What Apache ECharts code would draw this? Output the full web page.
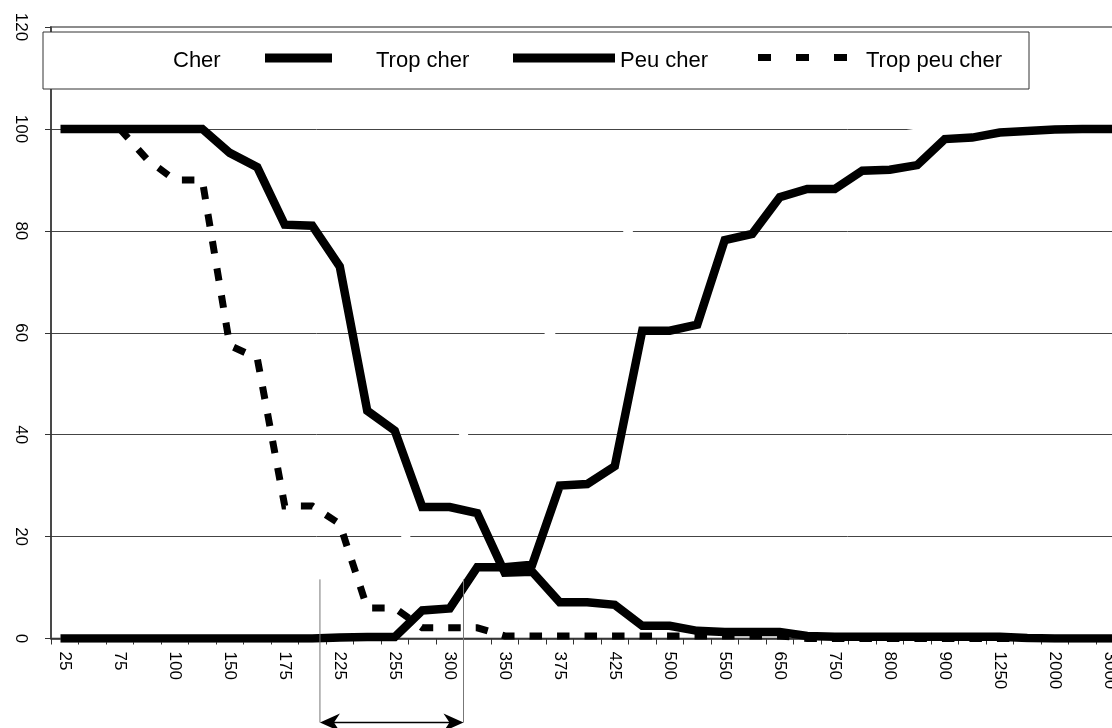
<!DOCTYPE html>
<html>
<head>
<meta charset="utf-8">
<script src="https://cdn.jsdelivr.net/npm/echarts/dist/echarts.min.js"></script>
<style>
html,body{margin:0;padding:0;background:#fff;}
#chart{width:1112px;height:728px;}
</style>
</head>
<body>
<div id="chart"></div>
<script>
// Price points (every other one is labelled on the axis)
const categories = ['25','50','75','90','100','125','150','160','175','200','225','250','255','275','300','325','350','360','375','400','425','450','500','525','550','600','650','700','750','775','800','850','900','1000','1250','1500','2000','2500','3000'];

// Cumulative percentages
const cher        = [0,0,0,0,0,0,0,0,0,1,4,10,16,26,35,45,50,56,62,70,76,84,88,90,93,95,96,97,97.5,98,98.5,99.3,100,100,100,100,100,100,100];
const tropCher    = [0,0,0,0,0,0,0,0,0,0,0.2,0.3,0.3,5.5,5.9,14,14,14.5,30,30.3,33.8,60.4,60.4,61.6,78.2,79.4,86.6,88.2,88.2,91.8,92,92.9,98,98.3,99.3,99.6,99.9,100,100];
const peuCher     = [100,100,100,100,100,100,95.3,92.5,81.2,81,73,44.7,40.8,25.8,25.8,24.6,12.9,13.1,7.1,7.1,6.6,2.5,2.5,1.5,1.3,1.3,1.3,0.5,0.35,0.35,0.35,0.35,0.35,0.35,0.35,0.1,0,0,0];
const tropPeuCher = [100,100,100,94,90,90,57.5,55,26,26,22.5,6,6,2.1,2.1,2.1,0.5,0.5,0.5,0.5,0.5,0.5,0.5,0.5,0.5,0.5,0.5,0,0,0,0,0,0,0,0,0,0,0,0];

const seriesNames = ['Cher','Trop cher','Peu cher','Trop peu cher'];
const yTicks = [0, 120, 20];          // min, max, interval
const rangeMarks = [9.28, 14.5];      // acceptable range bounds, in category positions
const rangeTopValue = 11.6;

const FONT = 'Liberation Sans, Arial, sans-serif';
const chart = echarts.init(document.getElementById('chart'), null, {renderer:'canvas'});

// legend icons: bar in the upper part of a 15px-high box (text sits slightly lower, as in the original)
const barIcon67  = 'path://M0,0H67V9H0Z M0,15H1V15Z';
const barIcon102 = 'path://M0,0H102V9H0Z M0,15H1V15Z';
const dashIcon   = 'path://M0,1H13V8H0Z M38,1H51V8H38Z M76,1H89V8H76Z M0,15H1V15Z';

function legendItem(name, left, icon, w, padLeft){
  return {
    data:[{name:name, icon:icon}],
    left:left, top:50, padding:0,
    itemWidth:w, itemHeight:15,
    selectedMode:false, z:20,
    itemStyle:{borderWidth:0},
    textStyle:{fontFamily:FONT, fontSize:22, color:'#000', padding:[0,0,0,padLeft]}
  };
}

const option = {
  animation:false,
  backgroundColor:'#fff',
  grid:{left:51, right:-11.5, top:27, bottom:89.5, show:true, borderColor:'#8c8c8c', borderWidth:2, backgroundColor:'transparent', outerBoundsMode:'none'},
  legend:[
    legendItem(seriesNames[0], 101, barIcon67, 67, 0),
    legendItem(seriesNames[1], 265, barIcon67, 67, 39),
    legendItem(seriesNames[2], 513, barIcon102, 102, 0),
    legendItem(seriesNames[3], 758, dashIcon, 89, 14)
  ],
  xAxis:{
    type:'category', data:categories, boundaryGap:true,
    axisLine:{lineStyle:{color:'#333', width:1.5}},
    axisTick:{show:true, interval:0, length:6, lineStyle:{color:'#333', width:1}},
    axisLabel:{interval:1, rotate:-90, margin:13, fontFamily:FONT, fontSize:17, color:'#000'},
    splitLine:{show:false}
  },
  yAxis:{
    type:'value', min:yTicks[0], max:yTicks[1], interval:yTicks[2],
    axisLine:{show:true, lineStyle:{color:'#333', width:1.5}},
    axisTick:{show:true, length:6, lineStyle:{color:'#333', width:1}},
    axisLabel:{rotate:-90, margin:22, fontFamily:FONT, fontSize:17, color:'#000'},
    splitLine:{show:true, lineStyle:{color:['#444','#444','#444','#444','#444','#444','#8c8c8c'], width:1}}
  },
  series:[
    {name:seriesNames[0], type:'line', data:cher, symbol:'none', showSymbol:false, z:2,
     itemStyle:{color:'#fff'}, lineStyle:{color:'#fff', width:8, cap:'square'}},
    {name:seriesNames[1], type:'line', data:tropCher, symbol:'none', showSymbol:false, z:3,
     itemStyle:{color:'#000'}, lineStyle:{color:'#000', width:8.5, cap:'square', join:'miter'}},
    {name:seriesNames[2], type:'line', data:peuCher, symbol:'none', showSymbol:false, z:3,
     itemStyle:{color:'#000'}, lineStyle:{color:'#000', width:8.5, cap:'square', join:'miter'}},
    {name:seriesNames[3], type:'line', data:tropPeuCher, symbol:'none', showSymbol:false, z:4,
     itemStyle:{color:'#000'}, lineStyle:{color:'#000', width:7, type:[12.5,15], cap:'butt', join:'miter'}}
  ]
};
chart.setOption(option);

// Legend frame + acceptable range annotation, positioned from the axes
function catPx(pos){
  const i = Math.floor(pos), f = pos - i;
  const a = chart.convertToPixel({xAxisIndex:0}, i);
  const b = chart.convertToPixel({xAxisIndex:0}, i + 1);
  return a + (b - a) * f;
}
const xL = catPx(rangeMarks[0]);
const xR = catPx(rangeMarks[1]);
const yTop = chart.convertToPixel({yAxisIndex:0}, rangeTopValue);
const yZero = chart.convertToPixel({yAxisIndex:0}, 0);
const yArrow = yZero + 84;
const head = 20, halfH = 9;

chart.setOption({
  graphic:[
    {type:'rect', z:10, shape:{x:43, y:32, width:986, height:57}, style:{fill:'#fff', stroke:'#333', lineWidth:1}},
    {type:'line', z:5, shape:{x1:xL, y1:yTop, x2:xL, y2:yArrow}, style:{stroke:'#777', lineWidth:1}},
    {type:'line', z:5, shape:{x1:xR, y1:yTop, x2:xR, y2:yArrow}, style:{stroke:'#777', lineWidth:1}},
    {type:'line', z:5, shape:{x1:xL + 4, y1:yArrow, x2:xR - 4, y2:yArrow}, style:{stroke:'#000', lineWidth:1.5}},
    {type:'polygon', z:5, shape:{points:[[xL, yArrow],[xL + head, yArrow - halfH],[xL + head*0.7, yArrow],[xL + head, yArrow + halfH]]}, style:{fill:'#000'}},
    {type:'polygon', z:5, shape:{points:[[xR, yArrow],[xR - head, yArrow - halfH],[xR - head*0.7, yArrow],[xR - head, yArrow + halfH]]}, style:{fill:'#000'}}
  ]
});
</script>
</body>
</html>
